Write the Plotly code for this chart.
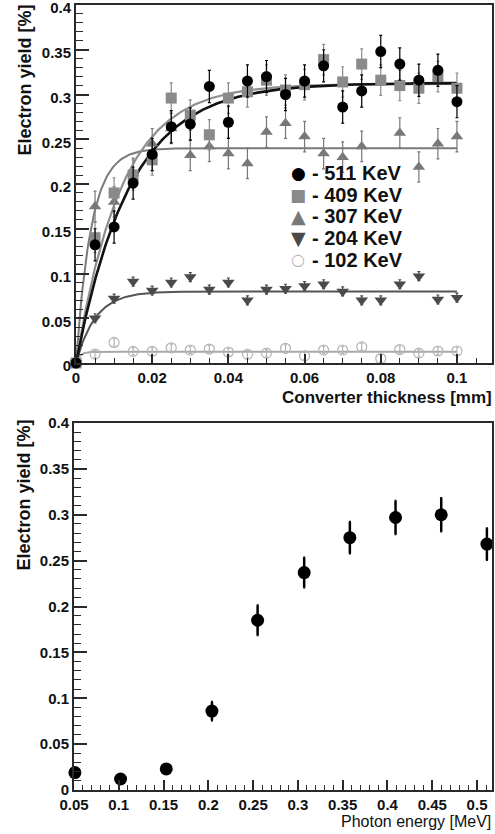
import numpy as np
import plotly.graph_objects as go

W, H = 495, 834

# ---------------- data: top panel (yield vs converter thickness) ----------------
thickness = [0, 0.005, 0.01, 0.015, 0.02, 0.025, 0.03, 0.035, 0.04, 0.045, 0.05,
             0.055, 0.06, 0.065, 0.07, 0.075, 0.08, 0.085, 0.09, 0.095, 0.1]
y511 = [0, 0.132, 0.152, 0.201, 0.233, 0.264, 0.267, 0.309, 0.269, 0.315, 0.320,
        0.300, 0.315, 0.332, 0.286, 0.304, 0.348, 0.334, 0.316, 0.327, 0.292]
y409 = [0, 0.140, 0.190, 0.210, 0.227, 0.296, 0.277, 0.255, 0.296, 0.303, 0.316,
        0.305, 0.311, 0.339, 0.314, 0.334, 0.316, 0.310, 0.307, 0.320, 0.307]
y307 = [0, 0.175, 0.180, 0.212, 0.245, 0.262, 0.232, 0.242, 0.234, 0.223, 0.258,
        0.268, 0.253, 0.234, 0.230, 0.242, None, 0.257, 0.219, 0.245, 0.253]
y204 = [0, 0.050, 0.072, 0.091, 0.081, 0.090, 0.096, 0.082, 0.090, 0.070, 0.082,
        0.083, 0.086, 0.088, 0.080, 0.070, 0.070, 0.088, 0.097, 0.071, 0.073]
y102 = [0, 0.010, 0.023, 0.013, 0.013, 0.017, 0.0145, 0.0156, 0.0123, 0.0097, 0.011,
        0.0164, 0.008, 0.0145, 0.0145, 0.018, 0.005, 0.015, 0.011, 0.0134, 0.0134]
err_top = {"511": 0.018, "409": 0.017, "307": 0.017, "204": 0.005, "102": 0.004}

# saturation-fit parameters (yield_max, characteristic thickness)
fit_sat = {"511": 0.313, "409": 0.312, "307": 0.240, "204": 0.080, "102": 0.0125}
fit_tau = {"511": 0.0142, "409": 0.0120, "307": 0.0040, "204": 0.0051, "102": 0.0010}

series_labels = ["511", "409", "307", "204", "102"]
legend_texts = ["- 511 KeV", "- 409 KeV", "- 307 KeV", "- 204 KeV", "- 102 KeV"]

# ---------------- data: bottom panel (yield vs photon energy) ----------------
energy = [0.051, 0.102, 0.153, 0.204, 0.255, 0.307, 0.358, 0.409, 0.460, 0.511]
yield_e = [0.019, 0.012, 0.023, 0.086, 0.185, 0.237, 0.275, 0.297, 0.300, 0.268]
yield_err = [0.004, 0.004, 0.004, 0.010, 0.016, 0.016, 0.017, 0.018, 0.018, 0.017]

top_yticks = [0, 0.05, 0.1, 0.15, 0.2, 0.25, 0.3, 0.35, 0.4]
top_yticklabels = ["0", "0.05", "0.1", "0.15", "0.2", "0.25", "0.3", "0.35", "0.4"]
top_xticks = [0, 0.02, 0.04, 0.06, 0.08, 0.1]
top_xticklabels = ["0", "0.02", "0.04", "0.06", "0.08", "0.1"]
bot_xticks = [0.05, 0.1, 0.15, 0.2, 0.25, 0.3, 0.35, 0.4, 0.45, 0.5]
bot_xticklabels = ["0.05", "0.1", "0.15", "0.2", "0.25", "0.3", "0.35", "0.4", "0.45", "0.5"]

# ---------------- styles ----------------
data_y = {"511": y511, "409": y409, "307": y307, "204": y204, "102": y102}
colors = {"511": "#000000", "409": "#8a8a8a", "307": "#787878", "204": "#4a4a4a", "102": "#b4b4b4"}
line_colors = {"511": "#111111", "409": "#8e8e8e", "307": "#7a7a7a", "204": "#555555", "102": "#a8a8a8"}
line_widths = {"511": 2.6, "409": 2.2, "307": 2.0, "204": 2.0, "102": 2.0}
symbols = {"511": "circle", "409": "square", "307": "triangle-up", "204": "triangle-down", "102": "circle-open"}
sizes = {"511": 11, "409": 11, "307": 11, "204": 11, "102": 10}

FONT = "Liberation Sans, Arial, sans-serif"
fig = go.Figure()

# fit curves (drawn first)
xfit = np.linspace(0, 0.1, 301)
for s in ["102", "204", "307", "409", "511"]:
    fig.add_trace(go.Scatter(
        x=xfit, y=fit_sat[s] * (1 - np.exp(-xfit / fit_tau[s])),
        mode="lines", line=dict(color=line_colors[s], width=line_widths[s]),
        xaxis="x", yaxis="y", showlegend=False, hoverinfo="skip"))

# data points
for s in ["102", "204", "307", "409", "511"]:
    ys = data_y[s]
    errs = [0 if (v == 0 or v is None) else err_top[s] for v in ys]
    fig.add_trace(go.Scatter(
        x=thickness, y=ys, mode="markers", name=s + " KeV",
        marker=dict(symbol=symbols[s], size=sizes[s], color=colors[s],
                    line=dict(color=colors[s], width=1.2 if s == "102" else 0)),
        error_y=dict(type="data", array=errs, visible=True, color=colors[s],
                     thickness=1.2, width=1.5),
        xaxis="x", yaxis="y", cliponaxis=False, showlegend=False))

# bottom panel
fig.add_trace(go.Scatter(
    x=energy, y=yield_e, mode="markers",
    marker=dict(symbol="circle", size=13, color="#000000"),
    error_y=dict(type="data", array=yield_err, visible=True, color="#000000",
                 thickness=2.5, width=1),
    xaxis="x2", yaxis="y2", cliponaxis=False, showlegend=False))

tick_font = dict(family=FONT, size=15, color="#111111", weight="bold")
axis_common = dict(showline=True, linecolor="#2a2a2a", linewidth=2, mirror=True,
                   ticks="inside", tickcolor="#2a2a2a", showgrid=False, zeroline=False,
                   tickfont=tick_font, automargin=False, ticklabeloverflow="allow")

fig.update_layout(
    width=W, height=H, autosize=False,
    margin=dict(l=0, r=0, t=0, b=0, pad=0),
    paper_bgcolor="white", plot_bgcolor="white",
    showlegend=False,
    xaxis=dict(domain=[76 / W, 492 / W], anchor="y", range=[0, 0.1092],
               tickvals=top_xticks, ticktext=top_xticklabels, ticklen=9, tickwidth=1.5,
               minor=dict(dtick=0.005, tick0=0, ticks="inside", ticklen=5,
                          tickcolor="#2a2a2a", tickwidth=1),
               **axis_common),
    yaxis=dict(domain=[(H - 363) / H, (H - 5) / H], anchor="x", range=[0, 0.4],
               tickvals=top_yticks, ticktext=top_yticklabels, ticklen=13, tickwidth=1.5,
               ticklabelshift=3,
               minor=dict(dtick=0.01, tick0=0, ticks="inside", ticklen=7,
                          tickcolor="#2a2a2a", tickwidth=1),
               **axis_common),
    xaxis2=dict(domain=[74 / W, 492 / W], anchor="y2", range=[0.05, 0.5167],
                tickvals=bot_xticks, ticktext=bot_xticklabels, ticklen=10, tickwidth=1.5,
                minor=dict(dtick=0.01, tick0=0.05, ticks="inside", ticklen=5,
                           tickcolor="#2a2a2a", tickwidth=1),
                **axis_common),
    yaxis2=dict(domain=[(H - 790) / H, (H - 423) / H], anchor="x2", range=[0, 0.4],
                tickvals=top_yticks, ticktext=top_yticklabels, ticklen=13, tickwidth=1.5,
                minor=dict(dtick=0.01, tick0=0, ticks="inside", ticklen=7,
                           tickcolor="#2a2a2a", tickwidth=1),
                **axis_common),
)

title_font = dict(family=FONT, size=18, color="#111111", weight="bold")
annotations = [
    dict(text="Electron yield [%]", textangle=-90, x=25 / W, y=(H - 3) / H,
         xref="paper", yref="paper", xanchor="center", yanchor="top",
         showarrow=False, font=title_font),
    dict(text="Converter thickness [mm]", x=494 / W, y=(H - 397) / H,
         xref="paper", yref="paper", xanchor="right", yanchor="middle",
         showarrow=False, font=dict(family=FONT, size=17, color="#111111", weight="bold")),
    dict(text="Electron yield [%]", textangle=-90, x=23 / W, y=(H - 418) / H,
         xref="paper", yref="paper", xanchor="center", yanchor="top",
         showarrow=False, font=title_font),
    dict(text="Photon energy [MeV]", x=493 / W, y=(H - 821) / H,
         xref="paper", yref="paper", xanchor="right", yanchor="middle",
         showarrow=False, font=dict(family=FONT, size=16, color="#111111")),
]

# legend (text labels with marker glyphs)
legend_glyphs = {"511": "●", "409": "■", "307": "▲", "204": "▼", "102": "○"}
glyph_sizes = {"511": 17, "409": 17, "307": 19, "204": 19, "102": 16}
legend_rows_px = [173, 195, 216, 238, 260]
for s, txt, ypx in zip(series_labels, legend_texts, legend_rows_px):
    annotations.append(dict(text=legend_glyphs[s], x=298 / W, y=(H - ypx) / H,
                            xref="paper", yref="paper", xanchor="center", yanchor="middle",
                            showarrow=False,
                            font=dict(family="DejaVu Sans", size=glyph_sizes[s], color=colors[s])))
    annotations.append(dict(text=txt, x=310 / W, y=(H - ypx) / H,
                            xref="paper", yref="paper", xanchor="left", yanchor="middle",
                            showarrow=False,
                            font=dict(family=FONT, size=20, color="#111111", weight="bold")))

fig.update_layout(annotations=annotations)

fig.write_html("out.html",
               config={"displayModeBar": False},
               post_script="document.body.style.margin='0';"
                           "document.body.style.overflow='hidden';")
